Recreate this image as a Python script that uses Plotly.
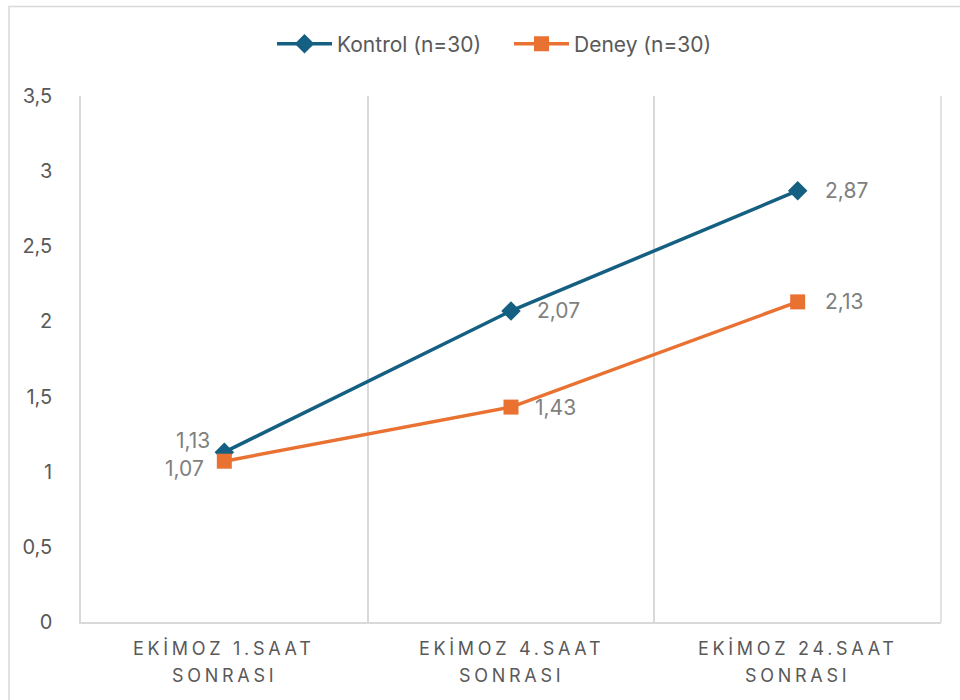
import plotly.graph_objects as go

categories = ["EKİMOZ 1.SAAT SONRASI", "EKİMOZ 4.SAAT SONRASI", "EKİMOZ 24.SAAT SONRASI"]
category_lines = [("EKİMOZ 1.SAAT", "SONRASI"), ("EKİMOZ 4.SAAT", "SONRASI"), ("EKİMOZ 24.SAAT", "SONRASI")]
kontrol = [1.13, 2.07, 2.87]
deney = [1.07, 1.43, 2.13]
series_names = ["Kontrol (n=30)", "Deney (n=30)"]
y_ticks = [0, 0.5, 1, 1.5, 2, 2.5, 3, 3.5]

BLUE = "#156082"
ORANGE = "#E97132"
GRID = "#D9D9D9"
TEXT = "#595959"
LABEL = "#7F7F7F"
FONT = "Inter, Open Sans, sans-serif"

# plot-area geometry in pixels
L, R, T, B = 81, 19, 96, 78
PW, PH = 960 - L - R, 700 - T - B


def fmt(v):
    return f"{v:.2f}".replace(".", ",")


fig = go.Figure()
fig.add_trace(go.Scatter(
    x=categories, y=kontrol, name=series_names[0], mode="lines+markers",
    line=dict(color=BLUE, width=3.5),
    marker=dict(symbol="diamond", size=15, color=BLUE),
))
fig.add_trace(go.Scatter(
    x=categories, y=deney, name=series_names[1], mode="lines+markers",
    line=dict(color=ORANGE, width=3.5),
    marker=dict(symbol="square", size=15, color=ORANGE),
))

# data labels: first point sits to the left of its marker, the rest to the right
label_place_k = [("right", -12, 12), ("left", 24, 0), ("left", 25, 0)]
label_place_d = [("right", -18, -7), ("left", 22, 0), ("left", 25, 0)]
for vals, places in ((kontrol, label_place_k), (deney, label_place_d)):
    for c, v, (anchor, dx, dy) in zip(categories, vals, places):
        fig.add_annotation(x=c, y=v, text=fmt(v), showarrow=False,
                           xanchor=anchor, xshift=dx, yshift=dy,
                           font=dict(family=FONT, size=21, color=LABEL))

# two-line category labels under the axis
for c, (l1, l2) in zip(categories, category_lines):
    for text, ypx in ((l1, 648), (l2, 675)):
        fig.add_annotation(x=c, xref="x", yref="paper", y=(622 - ypx) / PH,
                           text=f'<span style="letter-spacing:3.7px">{text}</span>',
                           showarrow=False, xanchor="center", yanchor="middle",
                           font=dict(family=FONT, size=18, color=TEXT))

# outer chart frame
fig.add_shape(type="rect", xref="paper", yref="paper",
              x0=(9 - L) / PW, x1=(970 - L) / PW,
              y0=(622 - 710) / PH, y1=(622 - 6.5) / PH,
              line=dict(color=GRID, width=1.5), layer="below")
# right edge of plot area
fig.add_shape(type="line", xref="paper", yref="paper", x0=1, x1=1, y0=0, y1=1,
              line=dict(color=GRID, width=1.5), layer="below")

fig.update_layout(
    width=960, height=700,
    margin=dict(l=L, r=R, t=T, b=B),
    paper_bgcolor="white", plot_bgcolor="white",
    separators=",.",
    font=dict(family=FONT, color=TEXT),
    showlegend=True,
    legend=dict(orientation="h", x=(272 - L) / PW, xanchor="left",
                y=1.0 + (96 - 44) / PH, yanchor="middle",
                font=dict(family=FONT, size=21, color=TEXT),
                itemwidth=55, entrywidth=167, entrywidthmode="pixels",
                traceorder="normal"),
    xaxis=dict(
        type="category", tickson="boundaries", range=[-0.5, 2.5],
        showticklabels=False,
        showgrid=True, gridcolor=GRID, gridwidth=1.5,
        showline=True, linecolor=GRID, linewidth=1.5,
        ticks="", zeroline=False,
    ),
    yaxis=dict(
        range=[0, 3.5], tickvals=y_ticks,
        ticktext=[f"{t:g}".replace(".", ",") for t in y_ticks],
        showgrid=False, zeroline=False,
        showline=True, linecolor=GRID, linewidth=1.5,
        ticks="", ticklabelstandoff=23,
        tickfont=dict(family=FONT, size=20, color=TEXT),
    ),
)

fig.write_html("out.html")
